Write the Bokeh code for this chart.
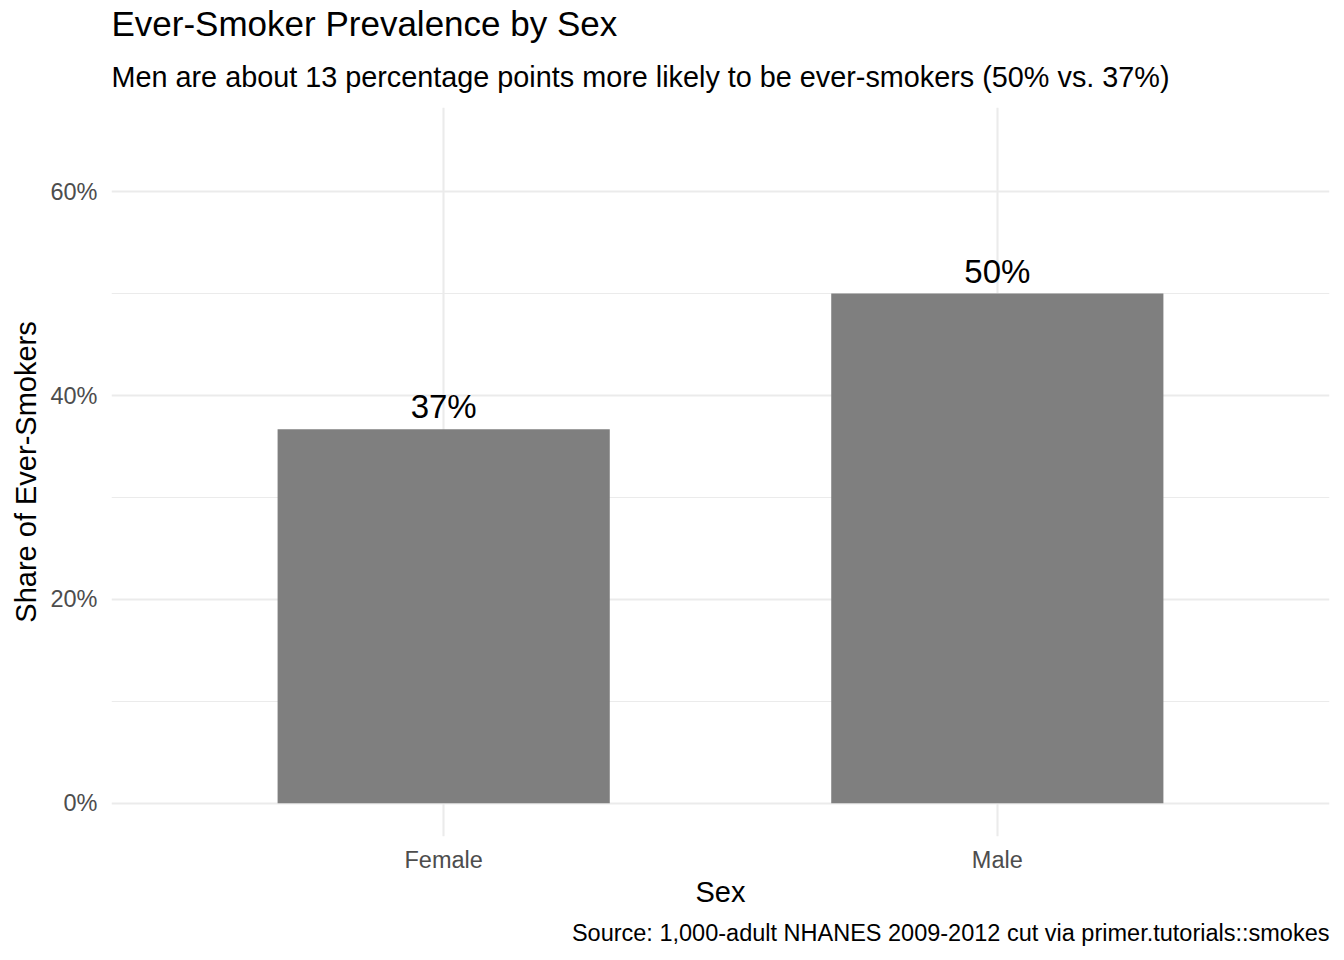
from bokeh.plotting import figure
from bokeh.models import ColumnDataSource, LabelSet, Title, FactorRange, Range1d, FixedTicker
from bokeh.embed import file_html
from bokeh.resources import INLINE
from bokeh.core.properties import value

# ---- data ----
sexes = ["Female", "Male"]
ever_smoker_share = [0.367, 0.500]
bar_labels = ["37%", "50%"]
y_ticks = [0.0, 0.2, 0.4, 0.6]
y_minor_ticks = [0.1, 0.3, 0.5]
y_tick_labels = ["0%", "20%", "40%", "60%"]

title_text = "Ever-Smoker Prevalence by Sex"
subtitle_text = "Men are about 13 percentage points more likely to be ever-smokers (50% vs. 37%)"
caption_text = "Source: 1,000-adult NHANES 2009-2012 cut via primer.tutorials::smokes"
x_title = "Sex"
y_title = "Share of Ever-Smokers"

FONT = "Liberation Sans"

src = ColumnDataSource(data=dict(sex=sexes, share=ever_smoker_share, lab=bar_labels))

p = figure(
    width=1336, height=952,
    x_range=FactorRange(factors=sexes, range_padding=0.1, range_padding_units="absolute"),
    y_range=Range1d(-0.0325, 0.6825),
    output_backend="svg", toolbar_location=None,
    min_border_left=111, min_border_right=7, min_border_top=107, min_border_bottom=116,
)
p.background_fill_color = "white"
p.border_fill_color = "white"
p.outline_line_color = None

p.vbar(x="sex", top="share", width=0.6, source=src,
       fill_color="#7F7F7F", line_color=None)

p.add_layout(LabelSet(x="sex", y="share", text="lab", source=src,
                      text_font=value(FONT), text_font_size=value("33px"),
                      text_color=value("black"),
                      text_align="center", text_baseline="alphabetic", y_offset=11))

# grids
p.xgrid.grid_line_color = "#EBEBEB"
p.xgrid.grid_line_width = 2.1
p.ygrid.ticker = FixedTicker(ticks=y_ticks, minor_ticks=y_minor_ticks)
p.ygrid.grid_line_color = "#EBEBEB"
p.ygrid.grid_line_width = 2.1
p.ygrid.minor_grid_line_color = "#EBEBEB"
p.ygrid.minor_grid_line_width = 1.1

# axes
p.yaxis.ticker = FixedTicker(ticks=y_ticks, minor_ticks=y_minor_ticks)
p.yaxis.major_label_overrides = {t: l for t, l in zip(y_ticks, y_tick_labels)}
for ax in (p.xaxis[0], p.yaxis[0]):
    ax.axis_line_color = None
    ax.major_tick_line_color = None
    ax.minor_tick_line_color = None
    ax.major_tick_out = 0
    ax.major_tick_in = 0
    ax.major_label_text_font = FONT
    ax.major_label_text_font_size = "23.5px"
    ax.major_label_text_color = "#4D4D4D"
    ax.axis_label_text_font = FONT
    ax.axis_label_text_font_size = "29px"
    ax.axis_label_text_font_style = "normal"
    ax.axis_label_text_color = "black"

p.xaxis.axis_label = x_title
p.xaxis.major_label_standoff = 10
p.xaxis.axis_label_standoff = 0
p.yaxis.axis_label = y_title
p.yaxis.major_label_standoff = 10
p.yaxis.axis_label_standoff = 5

# titles: first added to "above" sits closest to the plot frame
p.add_layout(Title(text=subtitle_text, align="left", text_font=FONT,
                   text_font_size="28.8px", text_font_style="normal",
                   text_color="black", standoff=30), "above")
p.add_layout(Title(text=title_text, align="left", text_font=FONT,
                   text_font_size="35px", text_font_style="normal",
                   text_color="black", standoff=1), "above")
p.add_layout(Title(text=caption_text, align="right", text_font=FONT,
                   text_font_size="23.5px", text_font_style="normal",
                   text_color="black", standoff=14), "below")

open("out.html", "w").write(file_html(p, INLINE))
